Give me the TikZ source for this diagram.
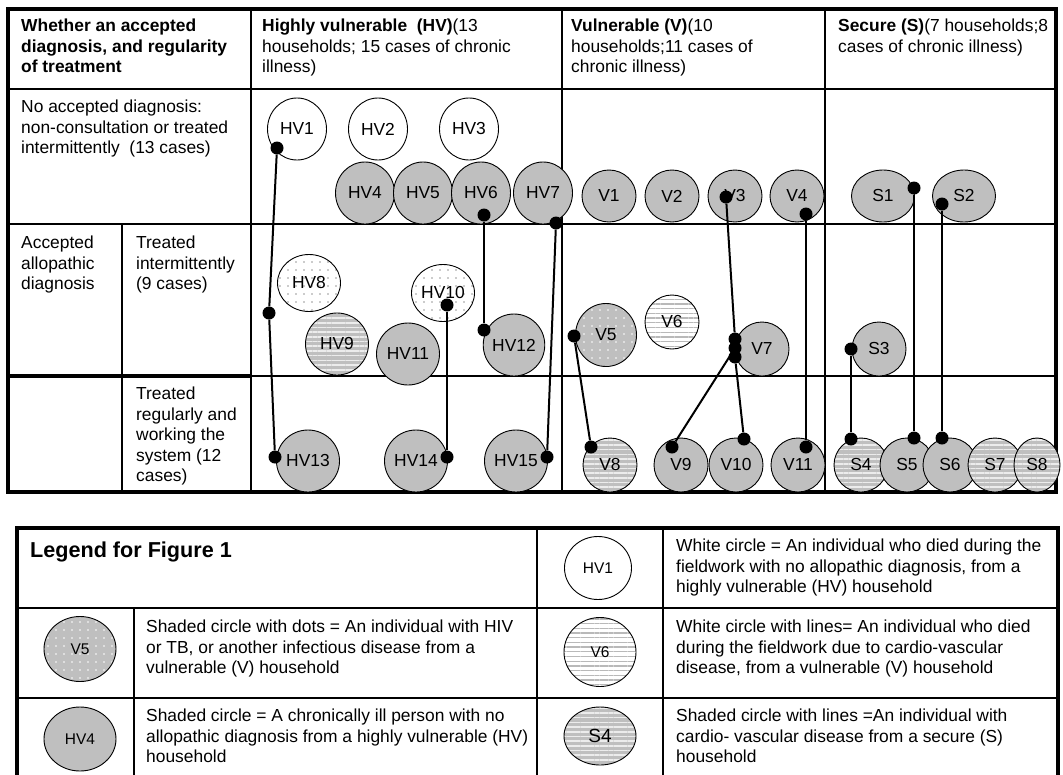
\documentclass[tikz,border=0pt]{standalone}
\usepackage{fontspec}
\setmainfont{Liberation Sans}
\usepackage{tikz}
\usetikzlibrary{shapes.geometric,patterns.meta}
\definecolor{shade}{gray}{0.75}
\newcommand{\cellfont}{\fontsize{17.4pt}{20.5pt}\selectfont}
\newcommand{\keyfont}{\fontsize{15.5pt}{18pt}\selectfont}
\newcommand{\titlefont}{\fontsize{21.6pt}{24pt}\selectfont}

\begin{document}
\begin{tikzpicture}[x=1pt,y=-1pt]
		\tikzstyle{Frame}	= [line width=3.2pt]
		\tikzstyle{Rule}	= [line width=1.2pt]
		\tikzstyle{Cell}	= [anchor=north west, inner sep=0pt, align=left, font=\cellfont]
		\tikzstyle{Person}	= [ellipse, draw, line width=0.9pt, inner sep=0pt, font=\cellfont]
		\tikzstyle{Big}		= [minimum width=59pt, minimum height=62pt]
		\tikzstyle{Small}	= [minimum width=54pt, minimum height=54pt]
		\tikzstyle{Died}	= [fill=white]
		\tikzstyle{Ill}		= [fill=shade]
		\tikzstyle{DiedDots}	= [preaction={fill=white}, pattern={Dots[distance=8pt,radius=0.9pt]}, pattern color=gray!80]
		\tikzstyle{IllDots}	= [preaction={fill=shade}, pattern={Dots[distance=8pt,radius=0.9pt]}, pattern color=white]
		\tikzstyle{DiedLines}	= [preaction={fill=white}, pattern={Lines[distance=4.7pt,line width=1.3pt]}, pattern color=gray!55]
		\tikzstyle{IllLines}	= [preaction={fill=shade}, pattern={Lines[distance=4.7pt,line width=1.6pt]}, pattern color=gray!15]
		\tikzstyle{Pin}		= [circle, fill=black, minimum size=13pt, inner sep=0pt]
		\tikzstyle{Link}	= [line width=2pt]

		\useasboundingbox (0,0) rectangle (1063,774);

		\draw [Frame] (8,9) rectangle (1056,492);
		\draw [Rule] (8,89) -- (1056,89);
		\draw [Rule] (8,224) -- (1056,224);
		\draw [Rule] (251,376) -- (1056,376);
		\draw [Frame] (8,376) -- (251,376);
		\draw [Rule] (251,9) -- (251,492);
		\draw [Rule] (122,224) -- (122,492);
		\draw [Rule] (562,9) -- (562,492);
		\draw [Rule] (825,9) -- (825,492);

		\draw [Frame] (17,778) -- (17,528) -- (1058,528) -- (1058,778);
		\draw [Rule] (17,608) -- (1058,608);
		\draw [Rule] (17,698) -- (1058,698);
		\draw [Rule] (134,608) -- (134,778);
		\draw [Rule] (537,528) -- (537,778);
		\draw [Rule] (663,528) -- (663,778);

		\node (whether) at (21,19) [Cell, font=\cellfont\bfseries] {Whether an accepted\\diagnosis, and regularity\\of treatment};
		\node (hvhead) at (262,19) [Cell] {\textbf{Highly vulnerable\ \ (HV)}(13\\households; 15 cases of chronic\\illness)};
		\node (vhead) at (571,19) [Cell] {\textbf{Vulnerable (V)}(10\\households;11 cases of\\chronic illness)};
		\node (shead) at (838,19) [Cell] {\textbf{Secure (S)}(7 households;8\\cases of chronic illness)};
		\node (noacc) at (21,100) [Cell] {No accepted diagnosis:\\non-consultation or treated\\intermittently\ \ (13 cases)};
		\node (accepted) at (21,236) [Cell] {Accepted\\allopathic\\diagnosis};
		\node (treatint) at (136,236) [Cell] {Treated\\intermittently\\(9 cases)};
		\node (treatreg) at (136,387) [Cell] {Treated\\regularly and\\working the\\system (12\\cases)};

		\node (legtitle) at (30,542) [Cell, font=\titlefont\bfseries] {Legend for Figure 1};
		\node (txtwhite) at (676,539) [Cell] {White circle = An individual who died during the\\fieldwork with no allopathic diagnosis, from a\\highly vulnerable (HV) household};
		\node (txtdots) at (146,620) [Cell] {Shaded circle with dots = An individual with HIV\\or TB, or another infectious disease from a\\vulnerable (V) household};
		\node (txtlines) at (676,620) [Cell] {White circle with lines= An individual who died\\during the fieldwork due to cardio-vascular\\disease, from a vulnerable (V) household};
		\node (txtshaded) at (146,709) [Cell] {Shaded circle = A chronically ill person with no\\allopathic diagnosis from a highly vulnerable (HV)\\household};
		\node (txtstriped) at (676,709) [Cell] {Shaded circle with lines =An individual with\\cardio- vascular disease from a secure (S)\\household};

		\node (hv1) at (297,129) [Person, Big, Died] {HV1};
		\node (hv2) at (378,129) [Person, Big, Died] {HV2};
		\node (hv3) at (469,129) [Person, Big, Died] {HV3};
		\node (hv4) at (365,193) [Person, Big, Ill] {HV4};
		\node (hv5) at (423,193) [Person, Big, Ill] {HV5};
		\node (hv6) at (481,193) [Person, Big, Ill] {HV6};
		\node (hv7) at (543,193) [Person, Big, Ill] {HV7};
		\node (hv8) at (309,283) [Person, DiedDots, minimum width=63pt, minimum height=57pt] {HV8};
		\node (hv9) at (337,344) [Person, Big, IllLines, minimum width=63pt] {HV9};
		\node (hv10) at (443,293) [Person, DiedDots, minimum width=63pt, minimum height=57pt] {HV10};
		\node (hv11) at (408,354) [Person, Big, Ill, minimum width=63pt] {HV11};
		\node (hv12) at (514,345) [Person, Big, Ill] {HV12};
		\node (hv13) at (308,461) [Person, Big, Ill, minimum width=63pt] {HV13};
		\node (hv14) at (416,461) [Person, Big, Ill, minimum width=63pt] {HV14};
		\node (hv15) at (516,461) [Person, Big, Ill, minimum width=63pt] {HV15};

		\node (v1) at (609,196) [Person, Small, Ill, minimum height=52pt] {V1};
		\node (v2) at (672,196) [Person, Small, Ill, minimum height=52pt] {V2};
		\node (v3) at (735,196) [Person, Small, Ill, minimum height=52pt] {V3};
		\node (v4) at (797,196) [Person, Small, Ill, minimum height=52pt] {V4};
		\node (v5) at (606,335) [Person, IllDots, minimum width=61pt, minimum height=63pt] {V5};
		\node (v6) at (672,322) [Person, Small, DiedLines] {V6};
		\node (v7) at (762,349) [Person, Small, Ill] {V7};
		\node (v8) at (610,465) [Person, Small, IllLines] {V8};
		\node (v9) at (681,465) [Person, Small, Ill] {V9};
		\node (v10) at (736,465) [Person, Small, Ill] {V10};
		\node (v11) at (798,465) [Person, Small, Ill] {V11};

		\node (s1) at (883,196) [Person, Ill, minimum width=63pt, minimum height=52pt] {S1};
		\node (s2) at (964,196) [Person, Ill, minimum width=63pt, minimum height=52pt] {S2};
		\node (s3) at (879,349) [Person, Small, Ill] {S3};
		\node (s4) at (861,465) [Person, Small, IllLines] {S4};
		\node (s5) at (907,465) [Person, Small, Ill] {S5};
		\node (s6) at (950,465) [Person, Small, Ill] {S6};
		\node (s7) at (995,465) [Person, Small, IllLines] {S7};
		\node (s8) at (1037,465) [Person, Small, IllLines, minimum width=46pt] {S8};

		\node (lgv5) at (80,649) [Person, IllDots, font=\keyfont, minimum width=72pt, minimum height=65pt] {V5};
		\node (lghv4) at (80,739) [Person, Ill, font=\keyfont, minimum width=72pt, minimum height=64pt] {HV4};
		\node (lghv1) at (598,568) [Person, Died, font=\keyfont, minimum width=67pt, minimum height=63pt] {HV1};
		\node (lgv6) at (600,652) [Person, DiedLines, font=\keyfont, minimum width=72pt, minimum height=69pt] {V6};
		\node (lgs4) at (600,736) [Person, IllLines, font=\fontsize{19pt}{21pt}\selectfont, minimum width=72pt, minimum height=58pt] {S4};

		\node (hv1p) at (277,148) [Pin] {};
		\node (hvmid) at (269,313) [Pin] {};
		\node (hv13p) at (275,457) [Pin] {};
		\node (hv6p) at (484,215) [Pin] {};
		\node (hv12p) at (484,330) [Pin] {};
		\node (hv10p) at (447,305) [Pin] {};
		\node (hv14p) at (447,457) [Pin] {};
		\node (hv7p) at (556,223) [Pin] {};
		\node (hv15p) at (547,457) [Pin] {};
		\node (v5p) at (574,336) [Pin] {};
		\node (v8p) at (591,447) [Pin] {};
		\node (v3p) at (726,197) [Pin] {};
		\node (v7a) at (735,339) [Pin] {};
		\node (v7b) at (735,348) [Pin] {};
		\node (v7c) at (735,357) [Pin] {};
		\node (v9p) at (672,447) [Pin] {};
		\node (v10p) at (744,439) [Pin] {};
		\node (v4p) at (806,214) [Pin] {};
		\node (v11p) at (806,447) [Pin] {};
		\node (s1p) at (914,188) [Pin] {};
		\node (s5p) at (914,438) [Pin] {};
		\node (s2p) at (942,204) [Pin] {};
		\node (s6p) at (942,438) [Pin] {};
		\node (s3p) at (851,349) [Pin] {};
		\node (s4p) at (851,439) [Pin] {};

		\draw [-] (hv1p) to (hvmid) [Link];
		\draw [-] (hvmid) to (hv13p) [Link];
		\draw [-] (hv6p) to (hv12p) [Link];
		\draw [-] (hv10p) to (hv14p) [Link];
		\draw [-] (hv7p) to (hv15p) [Link];
		\draw [-] (v5p) to (v8p) [Link];
		\draw [-] (v3p) to (v7a) [Link];
		\draw [-] (v7b) to (v9p) [Link];
		\draw [-] (v7c) to (v10p) [Link];
		\draw [-] (v4p) to (v11p) [Link];
		\draw [-] (s1p) to (s5p) [Link];
		\draw [-] (s2p) to (s6p) [Link];
		\draw [-] (s3p) to (s4p) [Link];
	\end{tikzpicture}
\end{document}
